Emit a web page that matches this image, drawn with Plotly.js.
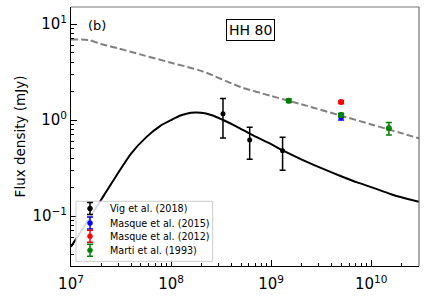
<!DOCTYPE html>
<html>
<head>
<meta charset="utf-8">
<script src="https://cdn.plot.ly/plotly-3.0.1.min.js"></script>
<style>html,body{margin:0;padding:0;background:#fff;}#chart{width:426px;height:299px;}</style>
</head>
<body>
<div id="chart"></div>
<script>
// Model curves
const modelFreq = [1e7, 1.41e7, 2e7, 2.82e7, 4e7, 5.62e7, 7.94e7, 1e8, 1.26e8, 1.58e8, 2e8, 2.51e8, 3.31e8, 4.47e8, 6.31e8, 1e9, 1.32e9, 2e9, 3.31e9, 5e9, 7.24e9, 1e10, 1.55e10, 2e10, 3e10];
const solidFlux = [0.048, 0.083, 0.148, 0.26, 0.45, 0.66, 0.88, 1.0, 1.12, 1.19, 1.19, 1.13, 1.0, 0.86, 0.71, 0.56, 0.48, 0.39, 0.31, 0.26, 0.224, 0.20, 0.17, 0.157, 0.141];
const dashFreq = [1e7, 1.5e7, 2e7, 3e7, 5e7, 1e8, 2e8, 5e8, 1e9, 2e9, 5e9, 1e10, 2e10, 3e10];
const dashFlux = [6.9, 6.8, 6.2, 5.55, 4.8, 3.95, 3.25, 2.2, 1.78, 1.46, 1.11, 0.9, 0.73, 0.645];

// Observations
const vigFreq = [3.3e8, 6.1e8, 1.3e9];
const vigFlux = [1.16, 0.62, 0.48];
const vigErrPlus = [0.52, 0.22, 0.18];
const vigErrMinus = [0.51, 0.23, 0.18];

const masque15Freq = [5e9];
const masque15Flux = [1.08];
const masque15Err = [0.08];

const masque12Freq = [5e9];
const masque12Flux = [1.54];
const masque12Err = [0.05];

const martiFreq = [1.5e9, 5e9, 1.5e10];
const martiFlux = [1.59, 1.13, 0.82];
const martiErr = [0.07, 0.05, 0.12];

const names = ['Vig et al. (2018)', 'Masque et al. (2015)', 'Masque et al. (2012)', 'Marti et al. (1993)'];
const colors = ['#000000', '#0000ff', '#ff0000', '#008000'];

const xTickVals = [1e7, 1e8, 1e9, 1e10];
const xTickText = ['10<sup>7</sup>', '10<sup>8</sup>', '10<sup>9</sup>', '10<sup>10</sup>'];
const yTickVals = [0.1, 1, 10];
const yTickText = ['10<sup>\u22121</sup>', '10<sup>0</sup>', '10<sup>1</sup>'];

function minorVals(lo, hi) {
  const out = [];
  for (let e = lo; e <= hi; e++) for (let d = 2; d <= 9; d++) out.push(d * Math.pow(10, e));
  return out;
}

const font = 'DejaVu Sans, sans-serif';

function obs(x, y, ep, em, color, name, size) {
  return {
    x: x, y: y, type: 'scatter', mode: 'markers', name: name,
    marker: {color: color, size: size},
    error_y: {type: 'data', array: ep, arrayminus: em, visible: true, color: color, thickness: 1.5, width: 3},
    showlegend: false
  };
}

const traces = [
  {x: dashFreq, y: dashFlux, type: 'scatter', mode: 'lines', line: {color: '#808080', width: 2, dash: '7px,3px', shape: 'spline', smoothing: 0.8}, showlegend: false, hoverinfo: 'skip'},
  {x: modelFreq, y: solidFlux, type: 'scatter', mode: 'lines', line: {color: '#000000', width: 2, shape: 'spline', smoothing: 0.8}, showlegend: false, hoverinfo: 'skip'},
  obs(vigFreq, vigFlux, vigErrPlus, vigErrMinus, colors[0], names[0], 5),
  obs(masque15Freq, masque15Flux, masque15Err, masque15Err, colors[1], names[1], 6),
  obs(masque12Freq, masque12Flux, masque12Err, masque12Err, colors[2], names[2], 6),
  obs(martiFreq, martiFlux, martiErr, martiErr, colors[3], names[3], 6)
];

// Legend (box, symbols, labels) in paper coordinates
const legendBox = {x0: 0.0144, x1: 0.407, y0: 0.018, y1: 0.25};
const legendRowsY = [0.222, 0.166, 0.115, 0.061];
const legendSymX = 0.0546;
const legendTextX = 0.107;

const shapes = [
  {type: 'line', xref: 'paper', yref: 'paper', x0: 0, x1: 1, y0: 1, y1: 1, line: {color: '#777', width: 1}},
  {type: 'line', xref: 'paper', yref: 'paper', x0: 1, x1: 1, y0: 0, y1: 1, line: {color: '#555', width: 1}},
  {type: 'rect', xref: 'paper', yref: 'paper', x0: legendBox.x0, x1: legendBox.x1, y0: legendBox.y0, y1: legendBox.y1,
   line: {color: '#cccccc', width: 1}, fillcolor: 'rgba(255,255,255,0.85)', layer: 'above'}
];
const annotations = [
  {text: '(b)', xref: 'paper', yref: 'paper', x: 0.075, y: 0.93, xanchor: 'center', yanchor: 'middle', showarrow: false, font: {family: font, size: 13, color: '#000'}},
  {text: 'HH 80', xref: 'paper', yref: 'paper', x: 0.515, y: 0.913, xanchor: 'center', yanchor: 'middle', showarrow: false,
   font: {family: font, size: 14, color: '#000'}, bordercolor: '#000', borderwidth: 1, borderpad: 2, bgcolor: '#fff'}
];
names.forEach((n, i) => {
  const y = legendRowsY[i];
  shapes.push({type: 'path', xref: 'paper', yref: 'paper', xsizemode: 'pixel', ysizemode: 'pixel',
    xanchor: legendSymX, yanchor: y, path: 'M-3,-6H3M0,-6V6M-3,6H3', line: {color: colors[i], width: 1.5}, layer: 'above'});
  shapes.push({type: 'circle', xref: 'paper', yref: 'paper', xsizemode: 'pixel', ysizemode: 'pixel',
    xanchor: legendSymX, yanchor: y, x0: -2.5, x1: 2.5, y0: -2.5, y1: 2.5, fillcolor: colors[i], line: {color: colors[i], width: 0.5}, layer: 'above'});
  annotations.push({text: n, xref: 'paper', yref: 'paper', x: legendTextX, y: y, xanchor: 'left', yanchor: 'middle',
    showarrow: false, font: {family: font, size: 9.6, color: '#000'}});
});

const layout = {
  width: 426, height: 299,
  margin: {l: 71, r: 7, t: 7, b: 33},
  paper_bgcolor: '#fff', plot_bgcolor: '#fff',
  font: {family: font, color: '#000', size: 13},
  showlegend: false,
  xaxis: {
    type: 'log', range: [7, 10.477],
    showgrid: false, zeroline: false,
    showline: true, linecolor: '#000', linewidth: 1,
    ticks: 'inside', ticklen: 6, tickwidth: 1, tickcolor: '#000',
    tickmode: 'array', tickvals: xTickVals, ticktext: xTickText,
    tickfont: {family: font, size: 15, color: '#000'},
    ticklabelstandoff: 4,
    minor: {tickmode: 'array', tickvals: minorVals(7, 10), ticks: 'inside', ticklen: 3, tickcolor: '#000', showgrid: false}
  },
  yaxis: {
    type: 'log', range: [-1.52, 1.177],
    showgrid: false, zeroline: false,
    showline: true, linecolor: '#000', linewidth: 1,
    ticks: 'inside', ticklen: 6, tickwidth: 1, tickcolor: '#000',
    tickmode: 'array', tickvals: yTickVals, ticktext: yTickText,
    tickfont: {family: font, size: 15, color: '#000'},
    minor: {tickmode: 'array', tickvals: minorVals(-2, 1), ticks: 'inside', ticklen: 3, tickcolor: '#000', showgrid: false},
    title: {text: 'Flux density (mJy)', font: {family: font, size: 13.5, color: '#000'}, standoff: 3}
  },
  shapes: shapes,
  annotations: annotations
};

Plotly.newPlot('chart', traces, layout, {displayModeBar: false, staticPlot: true});
</script>
</body>
</html>
